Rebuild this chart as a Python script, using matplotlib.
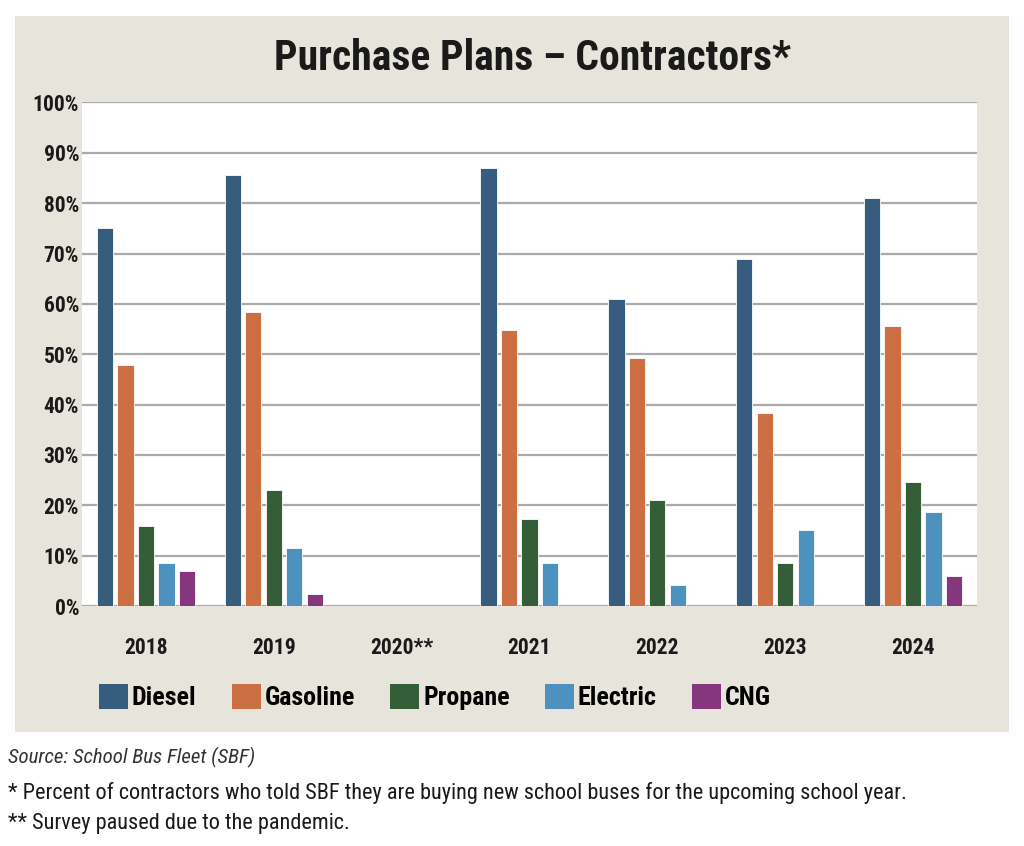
import matplotlib.pyplot as plt
from matplotlib.patches import Rectangle, Patch
import numpy as np

plt.rcParams['font.family'] = ['DejaVu Sans Condensed', 'Liberation Sans Narrow',
                               'Roboto Condensed', 'Roboto', 'DejaVu Sans']

# Дані
years = ['2018', '2019', '2020**', '2021', '2022', '2023', '2024']
fuels = ['Diesel', 'Gasoline', 'Propane', 'Electric', 'CNG']
diesel = [75.1, 85.6, 0, 87.0, 61.0, 68.9, 81.1]
gasoline = [47.8, 58.4, 0, 54.8, 49.3, 38.4, 55.7]
propane = [15.8, 23.1, 0, 17.2, 21.1, 8.5, 24.6]
electric = [8.5, 11.5, 0, 8.5, 4.2, 15.0, 18.6]
cng = [6.9, 2.3, 0, 0, 0, 0, 6.0]
colors = ['#365d7d', '#cc6f42', '#335e37', '#4d91bf', '#86367d']

series = [diesel, gasoline, propane, electric, cng]

fig = plt.figure(figsize=(10.24, 8.46), dpi=100)
fig.patch.set_facecolor('white')

# Бежева панель
fig.patches.append(Rectangle((15 / 1024, 1 - 732 / 846), 994 / 1024, 716 / 846,
                             facecolor='#e7e5db', edgecolor='none',
                             transform=fig.transFigure, zorder=-5))

ax = fig.add_axes([82 / 1024, 1 - 606 / 846, 895 / 1024, 503.5 / 846])
ax.set_facecolor('white')

x = np.arange(len(years))
step = 0.16
width = 0.127
for i, (vals, col) in enumerate(zip(series, colors)):
    ax.bar(x + (i - 2) * step, vals, width, color=col, edgecolor='white',
           linewidth=0.6, zorder=3)

ax.set_xlim(-0.5, 6.5)
ax.set_ylim(0, 100)
ax.set_yticks(np.arange(0, 101, 10))
ax.set_yticklabels([f'{v}%' for v in range(0, 101, 10)])
ax.set_xticks(x)
ax.set_xticklabels(years)
ax.grid(axis='y', color='#ababab', linewidth=1.6, zorder=1)
for s in ax.spines.values():
    s.set_visible(False)
ax.tick_params(axis='both', length=0, labelsize=15.5, colors='#1a1a1a')
ax.tick_params(axis='x', pad=22)
ax.tick_params(axis='y', pad=2)
for lab in ax.get_xticklabels() + ax.get_yticklabels():
    lab.set_fontweight('bold')

fig.text(532 / 1024, 1 - 58 / 846, 'Purchase Plans – Contractors*', ha='center',
         va='center', fontsize=30, fontweight='bold', color='#1a1a1a')

handles = [Patch(facecolor=c, edgecolor='none') for c in colors]
leg = fig.legend(handles, fuels, loc='center left',
                 bbox_to_anchor=(86 / 1024, 1 - 697 / 846), ncol=5,
                 frameon=False, handlelength=1.12,
                 handleheight=1.08, handletextpad=0.15, columnspacing=1.35,
                 borderpad=0, prop={'weight': 'bold', 'size': 18.7})

fig.text(8 / 1024, 1 - 757 / 846, 'Source: School Bus Fleet (SBF)',
         ha='left', va='center', fontsize=15, style='italic', color='#333333')
fig.text(8 / 1024, 1 - 793 / 846,
         '* Percent of contractors who told SBF they are buying new school buses for the upcoming school year.',
         ha='left', va='center', fontsize=16, color='#1a1a1a')
fig.text(8 / 1024, 1 - 823 / 846, '** Survey paused due to the pandemic.',
         ha='left', va='center', fontsize=16, color='#1a1a1a')

fig.savefig('out.png', dpi=100)
